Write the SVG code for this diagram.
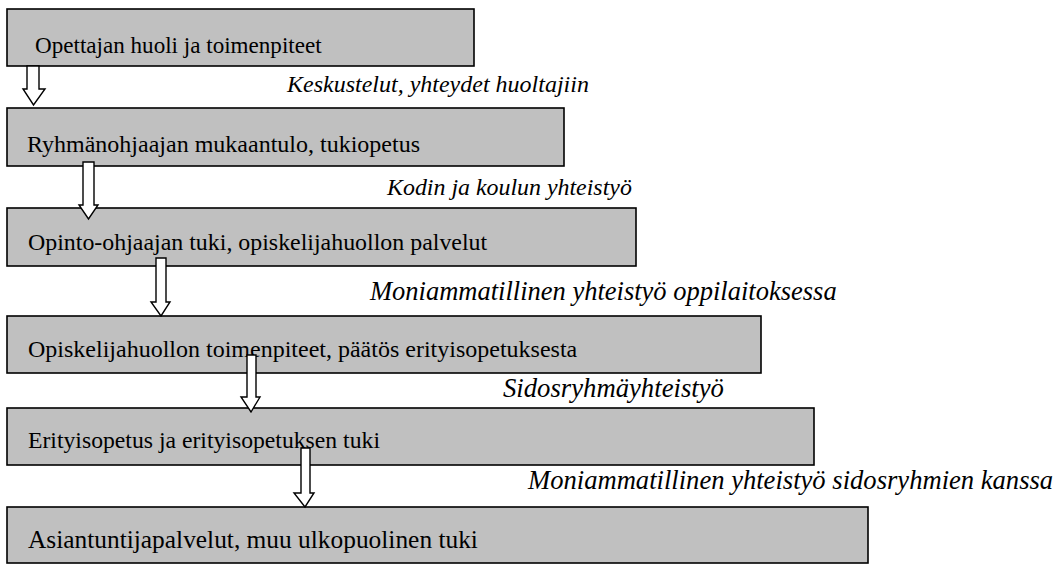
<svg xmlns="http://www.w3.org/2000/svg" width="1059" height="564" viewBox="0 0 1059 564">
  <style>
    .box { fill: #c0c0c0; stroke: #000; stroke-width: 1.6; }
    .boxtext { font-family: "Liberation Serif", "Times New Roman", serif; fill: #000; }
    .label { font-family: "Liberation Serif", "Times New Roman", serif; font-style: italic; fill: #000; }
    .arrow { fill: #fff; stroke: #000; stroke-width: 1.4; stroke-linejoin: miter; }
  </style>
  <rect width="1059" height="564" fill="#fff"/>

  <!-- process steps -->
  <g id="step1">
    <rect class="box" x="7" y="9" width="467" height="57"/>
    <text class="boxtext" x="35" y="53" font-size="23.1">Opettajan huoli ja toimenpiteet</text>
  </g>
  <g id="step2">
    <rect class="box" x="7" y="108" width="557" height="58"/>
    <text class="boxtext" x="27" y="152" font-size="24">Ryhmänohjaajan mukaantulo, tukiopetus</text>
  </g>
  <g id="step3">
    <rect class="box" x="7" y="208" width="629" height="58"/>
    <text class="boxtext" x="28" y="250" font-size="23.9">Opinto-ohjaajan tuki, opiskelijahuollon palvelut</text>
  </g>
  <g id="step4">
    <rect class="box" x="7" y="316" width="754" height="57"/>
    <text class="boxtext" x="28" y="357" font-size="24">Opiskelijahuollon toimenpiteet, päätös erityisopetuksesta</text>
  </g>
  <g id="step5">
    <rect class="box" x="7" y="408" width="807" height="57"/>
    <text class="boxtext" x="28" y="448" font-size="23.7">Erityisopetus ja erityisopetuksen tuki</text>
  </g>
  <g id="step6">
    <rect class="box" x="7" y="507" width="861" height="56"/>
    <text class="boxtext" x="28" y="548" font-size="25.4">Asiantuntijapalvelut, muu ulkopuolinen tuki</text>
  </g>

  <!-- block arrows between steps -->
  <g id="connectors">
    <path class="arrow" d="M27,66 L39,66 L39,89 L45,89 L33.5,105 L23,89 L27,89 Z"/>
    <path class="arrow" d="M83,162 L94,162 L94,205 L98,205 L88.5,219 L79,205 L83,205 Z"/>
    <path class="arrow" d="M156,258 L166,258 L166,302 L170,302 L161,316 L151,302 L156,302 Z"/>
    <path class="arrow" d="M247,355 L256,355 L256,397 L260,397 L251,412 L241,397 L247,397 Z"/>
    <path class="arrow" d="M301,448 L310,448 L310,493 L314,493 L305,507 L294,493 L301,493 Z"/>
  </g>

  <!-- cooperation labels -->
  <g id="labels">
    <text class="label" x="287" y="92" font-size="24">Keskustelut, yhteydet huoltajiin</text>
    <text class="label" x="387" y="195" font-size="23.9">Kodin ja koulun yhteistyö</text>
    <text class="label" x="370" y="300" font-size="26.5">Moniammatillinen yhteistyö oppilaitoksessa</text>
    <text class="label" x="503" y="397" font-size="26.7">Sidosryhmäyhteistyö</text>
    <text class="label" x="528" y="489" font-size="26.6">Moniammatillinen yhteistyö sidosryhmien kanssa</text>
  </g>
</svg>
